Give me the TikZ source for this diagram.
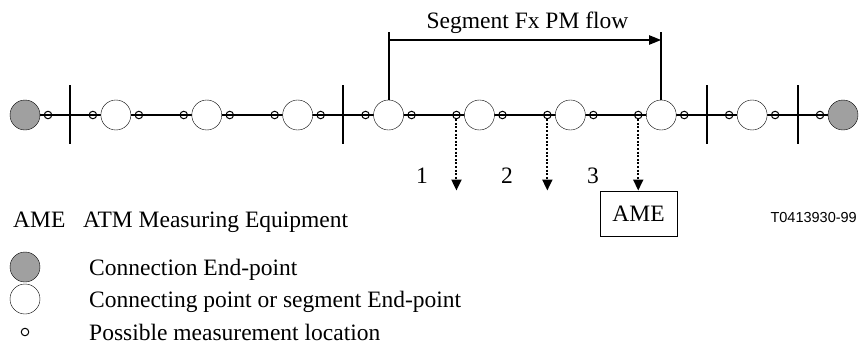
\documentclass[tikz,border=0pt]{standalone}
\usepackage{fontspec}
\setmainfont{Liberation Serif}
\newfontfamily\codefont{Liberation Sans}
\usepackage{tikz}
\usetikzlibrary{arrows.meta, positioning, backgrounds, calc}
\definecolor{endgray}{RGB}{160, 160, 160}

\begin{document}
\begin{tikzpicture}[
    x=1pt, y=-1pt,
    font=\fontsize{23.5}{26}\selectfont,
    endpt/.style={circle, draw, fill=endgray, minimum size=30pt, inner sep=0pt},
    conpt/.style={circle, draw, fill=white, minimum size=30pt, inner sep=0pt},
    meas/.style={circle, draw, line width=1pt, minimum size=7.5pt, inner sep=0pt},
    bar/.style={line width=2pt},
    flow/.style={-{Triangle[length=12pt, width=9pt]}, line width=2pt},
    probe/.style={dash pattern=on 2pt off 1.6pt, line width=2pt, -{Triangle[length=11pt, width=10pt]}},
    amebox/.style={rectangle, draw, line width=1pt, minimum width=77pt, minimum height=45pt},
    legtext/.style={anchor=base west, inner sep=0pt},
]
    \useasboundingbox (0,0) rectangle (859,359);

    % main chain
    \node[endpt] (c0) at (25,115) {};
    \foreach \i in {1,...,8}
        \node[conpt] (c\i) at (25+90.89*\i,115) {};
    \node[endpt] (c9) at (843,115) {};
    \foreach \i in {1,...,9}
        \node[meas] (mL\i) at ($(c\i)+(-23,0)$) {};
    \foreach \i in {0,...,8}
        \node[meas] (mR\i) at ($(c\i)+(23,0)$) {};
    \begin{scope}[on background layer]
        \draw[line width=2pt] (c0) -- (c9);
    \end{scope}
    \foreach \a/\b in {0/1, 3/4, 7/8, 8/9} {
        \coordinate (b\a) at ($(c\a)!0.5!(c\b)$);
        \draw[bar] ($(b\a)+(0,-30)$) -- ($(b\a)+(0,29)$);
    }

    % segment flow
    \coordinate (ftop) at (0,32);
    \coordinate (farr) at (0,40);
    \draw[line width=2pt] (c4) -- (c4 |- ftop);
    \draw[line width=2pt] (c7) -- (c7 |- ftop);
    \draw[flow] (c4 |- farr) -- (c7 |- farr);
    \node[anchor=base, inner sep=0pt] (flowlbl) at (527.5,28) {Segment Fx PM flow};

    % measuring points
    \node[amebox] (ame) at (638.5,213.5) {AME};
    \draw[probe] (mL5) -- (mL5 |- ame.north);
    \draw[probe] (mL6) -- (mL6 |- ame.north);
    \draw[probe] (mL7) -- (mL7 |- ame.north);
    \node[anchor=base, inner sep=0pt] (n1) at (422,183) {1};
    \node[anchor=base, inner sep=0pt] (n2) at (507,183) {2};
    \node[anchor=base, inner sep=0pt] (n3) at (593,183) {3};

    % legend
    \node[legtext] (ameabbr) at (13,227) {AME};
    \node[legtext] (ametext) at (83,227) {ATM Measuring Equipment};
    \node[anchor=east, inner sep=0pt, font=\codefont\fontsize{14.5}{16}\selectfont] (ref) at (857,218) {T0413930-99};
    \node[endpt] (legend) at (25,267) {};
    \node[conpt] (legcon) at (25,299) {};
    \node[meas] (legmeas) at (25,332) {};
    \node[legtext] (legendtext) at (89,275) {Connection End-point};
    \node[legtext] (legcontext) at (89,307) {Connecting point or segment End-point};
    \node[legtext] (legmeastext) at (89,340) {Possible measurement location};
\end{tikzpicture}
\end{document}
